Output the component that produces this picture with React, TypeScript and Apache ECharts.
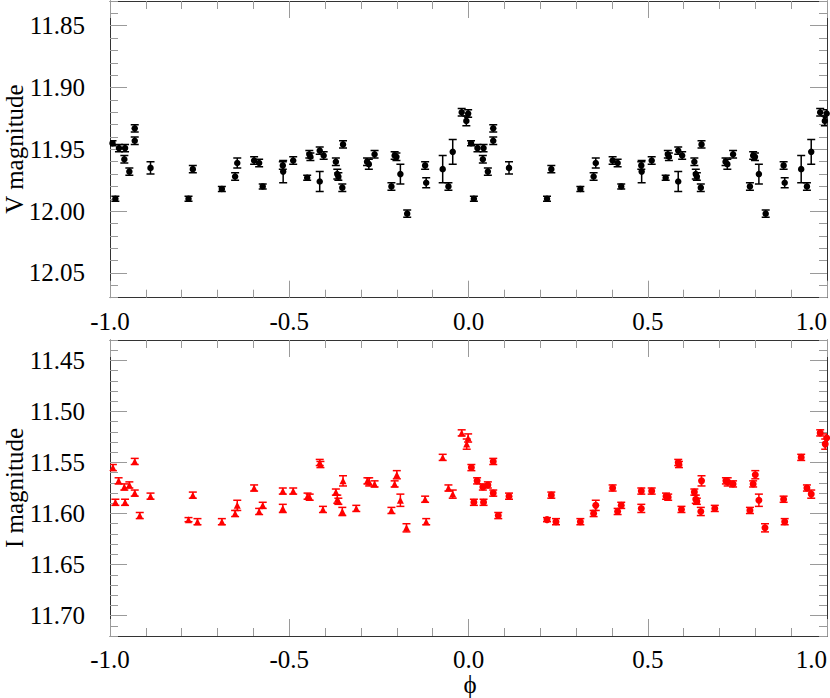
import React, { useEffect, useRef } from "react";
import * as echarts from "echarts";

// ---- V band (phase in [0,1), magnitude, error) ----
const vPhase = [0.007, 0.015, 0.025, 0.040, 0.042, 0.054, 0.069, 0.069, 0.113, 0.219, 0.231, 0.312, 0.349, 0.355, 0.402, 0.416, 0.426, 0.482, 0.483, 0.511, 0.550, 0.556, 0.559, 0.585, 0.596, 0.585, 0.630, 0.634, 0.637, 0.650, 0.648, 0.717, 0.722, 0.738, 0.785, 0.794, 0.799, 0.810, 0.829, 0.879, 0.882, 0.928, 0.944, 0.956, 0.981, 0.994, 0.999];
const vMag = [11.945, 11.990, 11.949, 11.958, 11.949, 11.968, 11.933, 11.943, 11.965, 11.990, 11.966, 11.982, 11.972, 11.961, 11.959, 11.961, 11.980, 11.963, 11.968, 11.959, 11.973, 11.954, 11.956, 11.951, 11.955, 11.976, 11.960, 11.970, 11.972, 11.946, 11.981, 11.960, 11.962, 11.954, 11.980, 11.955, 11.956, 11.970, 12.002, 11.963, 11.977, 11.966, 11.980, 11.952, 11.920, 11.927, 11.921];
const vErr = [0.002, 0.002, 0.003, 0.003, 0.003, 0.003, 0.003, 0.003, 0.005, 0.002, 0.003, 0.002, 0.003, 0.004, 0.003, 0.003, 0.002, 0.003, 0.009, 0.003, 0.002, 0.003, 0.003, 0.003, 0.003, 0.008, 0.003, 0.004, 0.003, 0.003, 0.003, 0.003, 0.004, 0.003, 0.003, 0.003, 0.003, 0.008, 0.003, 0.003, 0.004, 0.011, 0.003, 0.010, 0.003, 0.004, 0.003];

// ---- I band ----
const iPhase = [0.008, 0.015, 0.024, 0.040, 0.042, 0.054, 0.069, 0.069, 0.083, 0.113, 0.219, 0.231, 0.244, 0.312, 0.349, 0.355, 0.402, 0.416, 0.426, 0.482, 0.482, 0.511, 0.551, 0.557, 0.585, 0.587, 0.594, 0.630, 0.634, 0.637, 0.650, 0.648, 0.687, 0.718, 0.723, 0.738, 0.785, 0.794, 0.800, 0.810, 0.827, 0.879, 0.882, 0.928, 0.944, 0.956, 0.981, 0.999, 0.995];
const iMag = [11.555, 11.589, 11.568, 11.574, 11.589, 11.572, 11.549, 11.580, 11.602, 11.583, 11.606, 11.582, 11.608, 11.608, 11.600, 11.592, 11.575, 11.598, 11.592, 11.578, 11.595, 11.578, 11.583, 11.584, 11.550, 11.552, 11.596, 11.579, 11.586, 11.588, 11.568, 11.598, 11.595, 11.568, 11.569, 11.571, 11.597, 11.571, 11.562, 11.587, 11.614, 11.586, 11.608, 11.545, 11.575, 11.581, 11.521, 11.526, 11.532];
const iErr = [0.003, 0.003, 0.003, 0.003, 0.003, 0.003, 0.003, 0.003, 0.003, 0.003, 0.002, 0.003, 0.003, 0.003, 0.003, 0.005, 0.003, 0.003, 0.003, 0.003, 0.004, 0.003, 0.003, 0.003, 0.003, 0.003, 0.003, 0.003, 0.004, 0.003, 0.005, 0.004, 0.003, 0.003, 0.004, 0.003, 0.003, 0.003, 0.004, 0.006, 0.004, 0.003, 0.003, 0.003, 0.003, 0.004, 0.003, 0.004, 0.005];

// ---- axes ----
const xTicks = [-1.0, -0.5, 0.0, 0.5, 1.0];
const vTicks = [11.85, 11.9, 11.95, 12.0, 12.05];
const iTicks = [11.45, 11.5, 11.55, 11.6, 11.65, 11.7];
const vRange = [11.83, 12.07];
const iRange = [11.43, 11.72];

const FONT = "Liberation Serif";
const FS = 25;

function minorList(lo: number, hi: number) {
  const out: number[] = [];
  for (let k = Math.ceil(lo * 100 - 1e-6); k <= Math.floor(hi * 100 + 1e-6); k++) out.push(k / 100);
  return out;
}

function fold(ph: number[], mag: number[], err: number[]) {
  const neg: number[][] = [];
  const pos: number[][] = [];
  for (let k = 0; k < ph.length; k++) {
    neg.push([ph[k] - 1, mag[k], err[k]]);
    pos.push([ph[k], mag[k], err[k]]);
  }
  return { neg, pos };
}

const TICK = "#9a9a9a";
const LINE = "#333";

function xAxes(g: number) {
  const base = {
    type: "value",
    gridIndex: g,
    min: xTicks[0],
    max: xTicks[xTicks.length - 1],
    interval: 0.5,
    splitLine: { show: false },
    minorSplitLine: { show: false },
    axisLine: { show: true, onZero: false, lineStyle: { color: LINE, width: 1 } },
    axisTick: { show: true, inside: true, length: 17, lineStyle: { color: TICK } },
    minorTick: { show: true, splitNumber: 5, length: 8, lineStyle: { color: TICK } },
  };
  return [
    {
      ...base,
      position: "bottom",
      axisLabel: {
        show: true,
        margin: 11,
        fontSize: FS,
        fontFamily: FONT,
        color: "#000",
        showMinLabel: true,
        showMaxLabel: true,
        alignMaxLabel: "right",
        formatter: (v: number) => v.toFixed(1),
      },
    },
    { ...base, position: "top", axisLabel: { show: false } },
  ];
}

function yAxes(g: number, range: number[], majors: number[]) {
  const minors = minorList(range[0], range[1]);
  const base = {
    type: "value",
    gridIndex: g,
    min: range[0],
    max: range[1],
    inverse: true,
    splitLine: { show: false },
  };
  const out: any[] = [
    {
      ...base,
      position: "left",
      offset: 25,
      axisLine: { show: false, onZero: false },
      axisTick: { show: false },
      axisLabel: { customValues: majors, margin: 0, fontSize: FS, fontFamily: FONT, color: "#000", formatter: (v: number) => v.toFixed(2) },
    },
  ];
  for (const pos of ["left", "right"]) {
    out.push({
      ...base,
      position: pos,
      axisLine: { show: true, onZero: false, lineStyle: { color: LINE, width: 1 } },
      axisTick: { show: true, inside: true, length: 17, customValues: majors, lineStyle: { color: TICK } },
      axisLabel: { show: false },
    });
    out.push({
      ...base,
      position: pos,
      axisLine: { show: false, onZero: false },
      axisTick: { show: true, inside: true, length: 8, customValues: minors, lineStyle: { color: TICK } },
      axisLabel: { show: false },
    });
  }
  return out;
}

function errorSeries(data: number[][], xi: number, yi: number, color: string) {
  return {
    type: "custom",
    xAxisIndex: xi,
    yAxisIndex: yi,
    data,
    clip: true,
    z: 2,
    renderItem: (_p: any, api: any) => {
      const x = api.value(0);
      const y = api.value(1);
      const e = api.value(2);
      const a = api.coord([x, y - e]);
      const b = api.coord([x, y + e]);
      const w = 4;
      const style = { stroke: color, lineWidth: 1.5, fill: "none" };
      return {
        type: "group",
        children: [
          { type: "line", shape: { x1: a[0], y1: a[1], x2: b[0], y2: b[1] }, style },
          { type: "line", shape: { x1: a[0] - w, y1: a[1], x2: a[0] + w, y2: a[1] }, style },
          { type: "line", shape: { x1: b[0] - w, y1: b[1], x2: b[0] + w, y2: b[1] }, style },
        ],
      };
    },
  };
}

function pointSeries(data: number[][], xi: number, yi: number, color: string, symbol: string, size: number) {
  return {
    type: "scatter",
    xAxisIndex: xi,
    yAxisIndex: yi,
    data: data.map((d) => [d[0], d[1]]),
    symbol,
    symbolSize: size,
    itemStyle: { color, opacity: 1 },
    clip: true,
    z: 3,
  };
}

export default function App() {
  const ref = useRef<HTMLDivElement>(null);
  useEffect(() => {
    if (!ref.current) return;
    const chart = echarts.init(ref.current, null, { renderer: "svg" });
    const v = fold(vPhase, vMag, vErr);
    const i = fold(iPhase, iMag, iErr);
    const option: any = {
      animation: false,
      textStyle: { fontFamily: FONT },
      grid: [
        { left: 110, top: 1, width: 719, height: 296.7 },
        { left: 110, top: 340, width: 719, height: 296 },
      ],
      xAxis: [...xAxes(0), ...xAxes(1)],
      yAxis: [...yAxes(0, vRange, vTicks), ...yAxes(1, iRange, iTicks)],
      series: [
        errorSeries(v.neg, 0, 0, "#000"),
        errorSeries(v.pos, 0, 0, "#000"),
        pointSeries(v.neg, 0, 0, "#000", "circle", 6.5),
        pointSeries(v.pos, 0, 0, "#000", "circle", 6.5),
        errorSeries(i.neg, 2, 5, "#ff0000"),
        errorSeries(i.pos, 2, 5, "#ff0000"),
        pointSeries(i.neg, 2, 5, "#ff0000", "triangle", 7),
        pointSeries(i.pos, 2, 5, "#ff0000", "circle", 7),
      ],
      graphic: [
        {
          type: "text",
          x: 14,
          y: 149,
          rotation: Math.PI / 2,
          style: { text: "V magnitude", font: `${FS}px 'Liberation Serif'`, fill: "#000", textAlign: "center", textVerticalAlign: "middle" },
        },
        {
          type: "text",
          x: 14,
          y: 488,
          rotation: Math.PI / 2,
          style: { text: "I magnitude", font: `${FS}px 'Liberation Serif'`, fill: "#000", textAlign: "center", textVerticalAlign: "middle" },
        },
        {
          type: "text",
          x: 470,
          y: 684,
          style: { text: "\u03D5", font: `${FS}px 'Liberation Serif'`, fill: "#000", textAlign: "center", textVerticalAlign: "middle" },
        },
      ],
    };
    chart.setOption(option);
    return () => chart.dispose();
  }, []);
  return (
    <div
      ref={ref}
      style={{ position: "absolute", left: 0, top: 0, width: 830, height: 698, background: "#fff" }}
    />
  );
}
